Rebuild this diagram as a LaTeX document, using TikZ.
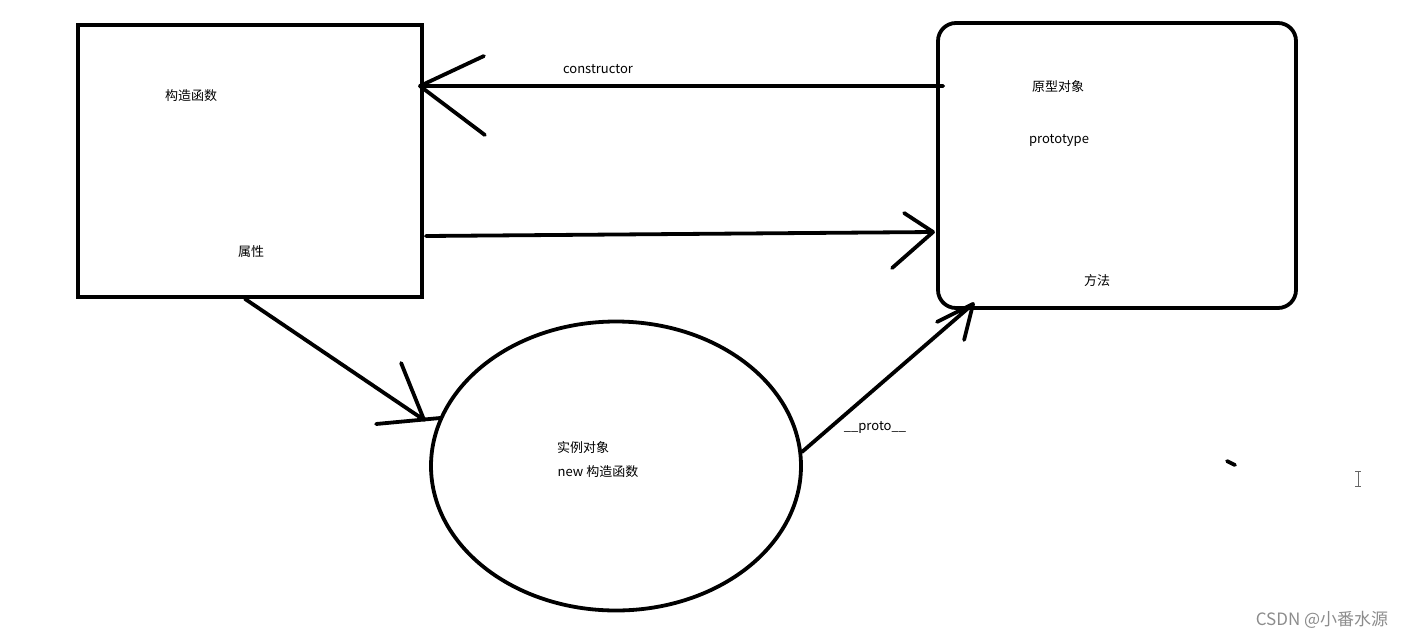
\documentclass[tikz,border=0pt]{standalone}
\usepackage{fontspec}
\setmainfont{Noto Sans CJK SC}
\usetikzlibrary{shapes.geometric,calc}
\tikzset{
  pen/.style={line width=3.8pt, line cap=round, line join=round},
  box/.style={draw, line width=3.8pt, inner sep=0pt},
  lbl/.style={font=\fontsize{13}{15}\selectfont, inner sep=0pt},
  wmark/.style={font=\fontsize{17}{19}\selectfont, inner sep=0pt, text=black!45}
}
\begin{document}
\begin{tikzpicture}[x=1pt,y=-1pt]
  \useasboundingbox (0,0) rectangle (1406,638);

  % the three shapes
  \node[box, minimum width=344pt, minimum height=272pt] (ctor) at (250,161) {};
  \node[box, rounded corners=18pt, minimum width=358pt, minimum height=285pt] (proto) at (1117,165.5) {};
  \node[box, ellipse, minimum width=370pt, minimum height=289pt] (inst) at (616,466) {};

  % texts
  \node[lbl] (ctorname) at (191,96) {构造函数};
  \node[lbl] (ctorattr) at (251,252) {属性};
  \node[lbl] (protoname) at (1058,87) {原型对象};
  \node[lbl] (protokey) at (1059,140) {prototype};
  \node[lbl] (protomethod) at (1097,281) {方法};
  \node[lbl] (instname) at (583,448) {实例对象};
  \node[lbl] (instnew) at (598,472) {new 构造函数};
  \node[lbl] (ctorlbl) at (598,69) {constructor};
  \node[lbl] (protolbl) at (875,427) {\_\_proto\_\_};

  % connectors
  \draw[pen] ([xshift=7]proto.west |- 0,86) -- ([xshift=-4]ctor.east |- 0,86) coordinate (t1)
    -- +(64,-30) (t1) -- +(65,49);
  \draw[pen] ([xshift=2]ctor.east |- 0,236) -- ([xshift=-3]proto.west |- 0,232) coordinate (t2)
    -- +(-29,-19) (t2) -- +(-41,36);
  \draw[pen] ([xshift=-5]ctor.south) -- ($(inst.west)+(-5,-46)$) coordinate (t3)
    -- +(-23,-57) (t3) ++(-48,4) -- ++(64,-6);
  \draw[pen] ($(inst.east)+(-1,-14)$) -- ($(proto.south west)+(37,-6)$) coordinate (t4)
    -- +(-36,18) (t4) -- +(-9,36);

  % stray marks
  \draw[pen] (1227,461) -- (1235,465);
  \draw[line width=1pt, black!60] (1358,471) -- (1358,486) (1355,471) -- (1361,471) (1355,486) -- (1361,486);
  \node[wmark] (wm) at (1322,620) {CSDN @小番水源};
\end{tikzpicture}
\end{document}
